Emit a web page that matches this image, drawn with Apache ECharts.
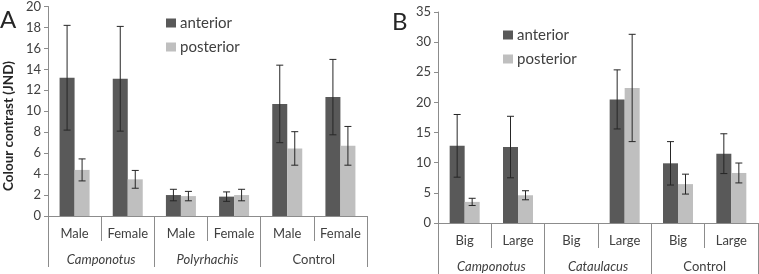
<!DOCTYPE html>
<html>
<head>
<meta charset="utf-8">
<script src="https://cdn.jsdelivr.net/npm/echarts@6/dist/echarts.min.js"></script>
<style>
  html, body { margin: 0; padding: 0; background: #fff; }
  #chart { width: 759px; height: 274px; }
</style>
</head>
<body>
<div id="chart"></div>
<script>
// panel A
const catsA = ['Male', 'Female', 'Male', 'Female', 'Male', 'Female'];
const groupsA = ['Camponotus', 'Polyrhachis', 'Control'];
const antA = [13.2, 13.1, 2.0, 1.85, 10.7, 11.35];
const antErrA = [5.0, 5.0, 0.55, 0.45, 3.7, 3.6];
const postA = [4.4, 3.5, 1.9, 2.0, 6.45, 6.7];
const postErrA = [1.05, 0.85, 0.45, 0.55, 1.6, 1.85];
const ticksA = { min: 0, max: 20, interval: 2 };

// panel B
const catsB = ['Big', 'Large', 'Big', 'Large', 'Big', 'Large'];
const groupsB = ['Camponotus', 'Cataulacus', 'Control'];
const antB = [12.8, 12.6, null, 20.5, 9.9, 11.5];
const antErrB = [5.2, 5.1, null, 4.9, 3.6, 3.3];
const postB = [3.5, 4.6, null, 22.4, 6.45, 8.3];
const postErrB = [0.6, 0.75, null, 8.9, 1.65, 1.65];
const ticksB = { min: 0, max: 35, interval: 5 };

const FONT = 'Lato';
const DARK = '#595959';
const LIGHT = '#bfbfbf';
const AXIS = '#8c8c8c';
const TXT = '#404040';

const italicGroups = ['Camponotus', 'Polyrhachis', 'Cataulacus'];

function errData(vals, errs) {
  const out = [];
  vals.forEach((v, i) => {
    if (v == null) return;
    out.push([i, v - errs[i], v + errs[i]]);
  });
  return out;
}

function errRender(offset) {
  return function (params, api) {
    const i = api.value(0);
    const lo = api.coord([i, api.value(1)]);
    const hi = api.coord([i, api.value(2)]);
    const x = lo[0] + offset;
    const st = { stroke: '#262626', lineWidth: 1 };
    return {
      type: 'group',
      children: [
        { type: 'line', shape: { x1: x, y1: lo[1], x2: x, y2: hi[1] }, style: st },
        { type: 'line', shape: { x1: x - 3.5, y1: lo[1], x2: x + 3.5, y2: lo[1] }, style: st },
        { type: 'line', shape: { x1: x - 3.5, y1: hi[1], x2: x + 3.5, y2: hi[1] }, style: st }
      ]
    };
  };
}

function catAxis(gi, cats) {
  return {
    gridIndex: gi,
    type: 'category',
    data: cats,
    position: 'bottom',
    axisLine: { show: true, lineStyle: { color: AXIS } },
    axisTick: { show: true, interval: 0, length: 25, lineStyle: { color: AXIS } },
    axisLabel: { interval: 0, margin: 11, fontFamily: FONT, fontSize: 13, color: TXT }
  };
}

function groupAxis(gi, groups) {
  return {
    gridIndex: gi,
    type: 'category',
    data: groups,
    position: 'bottom',
    axisLine: { show: false },
    axisTick: { show: true, interval: 0, length: 51, lineStyle: { color: AXIS } },
    axisLabel: {
      interval: 0, margin: 37, fontFamily: FONT, fontSize: 13, color: TXT,
      formatter: v => italicGroups.includes(v) ? '{i|' + v + '}' : v,
      rich: { i: { fontStyle: 'italic', fontFamily: FONT, fontSize: 13, color: TXT } }
    }
  };
}

function valAxis(gi, t) {
  return {
    gridIndex: gi,
    type: 'value',
    min: t.min, max: t.max, interval: t.interval,
    axisLine: { show: true, lineStyle: { color: AXIS } },
    axisTick: { show: true, length: 4, lineStyle: { color: AXIS } },
    splitLine: { show: false },
    axisLabel: { margin: 7, fontFamily: FONT, fontSize: 13, color: TXT }
  };
}

function barSeries(name, xi, yi, data, color) {
  return {
    name: name, type: 'bar', xAxisIndex: xi, yAxisIndex: yi,
    data: data, barWidth: 15, barGap: '0%',
    itemStyle: { color: color }
  };
}

function errSeries(xi, yi, data, offset) {
  return {
    type: 'custom', xAxisIndex: xi, yAxisIndex: yi, z: 5,
    renderItem: errRender(offset), data: data, silent: true
  };
}

const legendBase = {
  orient: 'vertical',
  data: ['anterior', 'posterior'],
  icon: 'rect',
  padding: 0,
  itemWidth: 10, itemHeight: 9, itemGap: 8,
  textStyle: { fontFamily: FONT, fontSize: 15, lineHeight: 16, color: TXT, padding: [0, 0, 0, -1] }
};

const chart = echarts.init(document.getElementById('chart'));
chart.setOption({
  animation: false,
  title: [
    { text: 'A', left: 0, top: 8, padding: 0, textStyle: { fontFamily: FONT, fontSize: 24, fontWeight: 'normal', color: '#262626' } },
    { text: 'B', left: 392, top: 10, padding: 0, textStyle: { fontFamily: FONT, fontSize: 24, fontWeight: 'normal', color: '#262626' } }
  ],
  graphic: [{
    type: 'text', x: 2, y: 126, rotation: Math.PI / 2,
    style: {
      text: 'Colour contrast (JND)', fontFamily: FONT, fontSize: 13.5, fontWeight: 'bold',
      fill: '#262626', align: 'center', verticalAlign: 'top'
    }
  }],
  legend: [
    Object.assign({ left: 166, top: 15 }, legendBase),
    Object.assign({ left: 503, top: 27 }, legendBase)
  ],
  grid: [
    { left: 48, top: 5, width: 319, height: 211 },
    { left: 438, top: 12, width: 320, height: 211 }
  ],
  xAxis: [catAxis(0, catsA), groupAxis(0, groupsA), catAxis(1, catsB), groupAxis(1, groupsB)],
  yAxis: [valAxis(0, ticksA), valAxis(1, ticksB)],
  series: [
    barSeries('anterior', 0, 0, antA, DARK),
    barSeries('posterior', 0, 0, postA, LIGHT),
    errSeries(0, 0, errData(antA, antErrA), -7.5),
    errSeries(0, 0, errData(postA, postErrA), 7.5),
    barSeries('anterior', 2, 1, antB, DARK),
    barSeries('posterior', 2, 1, postB, LIGHT),
    errSeries(2, 1, errData(antB, antErrB), -7.5),
    errSeries(2, 1, errData(postB, postErrB), 7.5)
  ]
});
</script>
</body>
</html>
